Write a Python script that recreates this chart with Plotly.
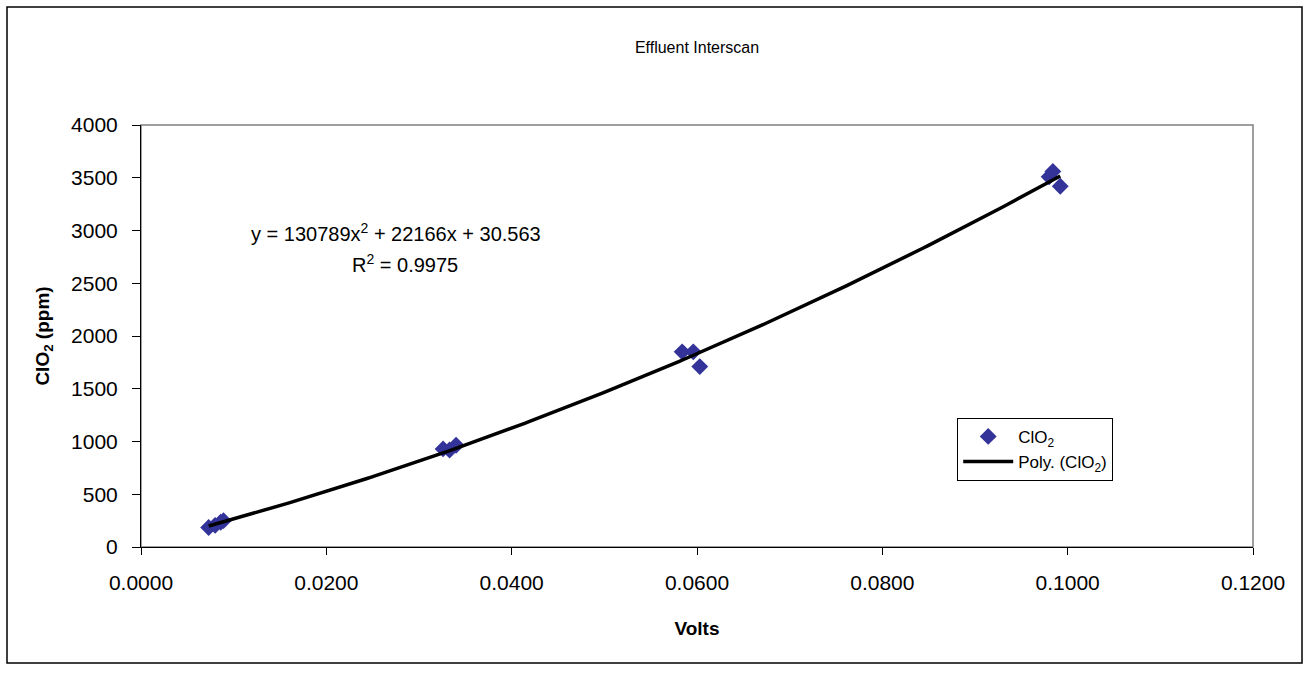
import numpy as np
import plotly.graph_objects as go

volts = [0.0073, 0.0080, 0.0086, 0.0089, 0.0326, 0.0333, 0.0340,
         0.0584, 0.0596, 0.0603, 0.0980, 0.0984, 0.0992]
clo2 = [185, 205, 235, 250, 930, 920, 965,
        1850, 1850, 1710, 3510, 3560, 3420]
poly_coef = [130789, 22166, 30.563]
r2 = 0.9975
x_ticks = [0.0, 0.02, 0.04, 0.06, 0.08, 0.10, 0.12]
y_ticks = [0, 500, 1000, 1500, 2000, 2500, 3000, 3500, 4000]

xs = np.linspace(min(volts), max(volts), 200)
ys = np.polyval(poly_coef, xs)

FONT = "Liberation Sans, Arial, sans-serif"

fig = go.Figure()
fig.add_trace(go.Scatter(
    x=volts, y=clo2, mode="markers", name="ClO<sub>2</sub>",
    marker=dict(symbol="diamond", size=13, color="#333399",
                line=dict(width=0)),
))
fig.add_trace(go.Scatter(
    x=xs, y=ys, mode="lines", name="Poly. (ClO<sub>2</sub>)",
    line=dict(color="black", width=3.5),
))

fig.update_layout(
    width=1310, height=675,
    margin=dict(l=141, r=57, t=125, b=128),
    paper_bgcolor="white", plot_bgcolor="white",
    font=dict(family=FONT, size=20, color="black"),
    title=dict(text="Effluent Interscan", x=(141 + 1253) / 2 / 1310,
               xanchor="center", y=1 - 47 / 675, yanchor="middle",
               font=dict(size=16)),
    showlegend=True,
    legend=dict(x=0.734, y=0.306, xanchor="left", yanchor="top",
                bordercolor="black", borderwidth=1, bgcolor="white",
                font=dict(size=17), tracegroupgap=4, itemwidth=50),
    xaxis=dict(range=[0, 0.12], tickvals=x_ticks, tickformat=".4f",
               showgrid=False, zeroline=False, showline=True,
               linecolor="black", linewidth=1, ticks="outside",
               ticklen=7, tickcolor="black", ticklabelstandoff=10,
               tickfont=dict(size=21),
               title=dict(text="<b>Volts</b>", font=dict(size=19), standoff=28)),
    yaxis=dict(range=[0, 4000], tickvals=y_ticks,
               showgrid=False, zeroline=False, showline=True,
               linecolor="black", linewidth=1, ticks="outside",
               ticklen=8, tickcolor="black", ticklabelstandoff=10,
               tickfont=dict(size=21),
               title=dict(text="<b>ClO<sub>2</sub> (ppm)</b>", font=dict(size=19),
                          standoff=16)),
    shapes=[
        dict(type="rect", xref="paper", yref="paper", x0=0, x1=1, y0=0, y1=1,
             line=dict(color="#808080", width=1.5), layer="below"),
        dict(type="rect", xref="paper", yref="paper",
             x0=-134 / 1112, x1=(1302 - 141) / 1112,
             y0=-(663 - 547) / 422, y1=(547 - 7) / 422,
             line=dict(color="black", width=1.5)),
    ],
    annotations=[
        dict(text="y = 130789x<sup>2</sup> + 22166x + 30.563",
             xref="paper", yref="paper",
             x=(396 - 141) / 1112, y=(547 - 232) / 422,
             showarrow=False, xanchor="center", yanchor="middle",
             font=dict(size=20)),
        dict(text="R<sup>2</sup> = %.4f" % r2,
             xref="paper", yref="paper",
             x=(405 - 141) / 1112, y=(547 - 263) / 422,
             showarrow=False, xanchor="center", yanchor="middle",
             font=dict(size=20)),
    ],
)

fig.write_html("out.html")
